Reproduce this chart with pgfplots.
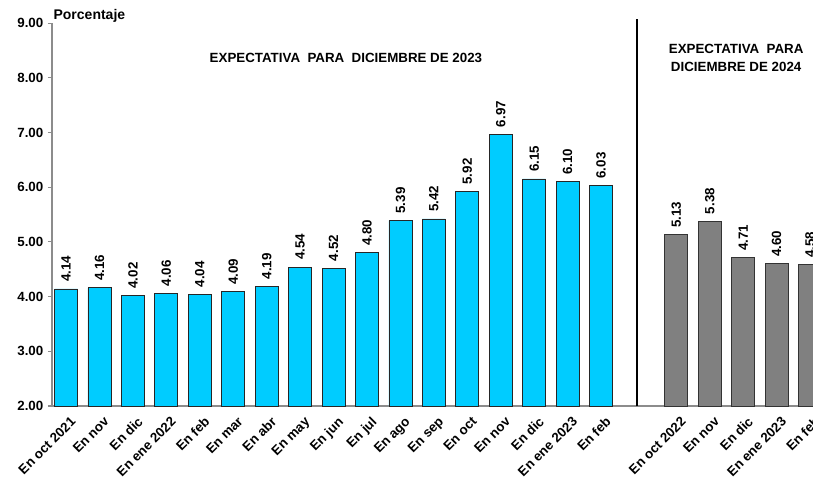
\documentclass[border=0pt]{standalone}
\usepackage{fontspec}
\setmainfont{Liberation Sans}
\usepackage{pgfplots}
\pgfplotsset{compat=1.18}
\definecolor{barcyan}{HTML}{00CCFF}
\definecolor{bargray}{HTML}{808080}
\definecolor{axgray}{HTML}{8C8C8C}
\begin{document}
\begin{tikzpicture}
\useasboundingbox (-39pt,-54.75pt) rectangle (570.75pt,304.5pt);
\clip (-39pt,-54.75pt) rectangle (570.75pt,304.5pt);
\begin{axis}[
  x=25.08pt, y=41.03pt,
  xmin=-0.42, xmax=22.8,
  ymin=2, ymax=9,
  clip=false,
  axis x line*=bottom,
  axis y line*=left,
  axis line style={axgray, line width=0.8pt},
  ytick={2,3,...,9},
  tick align=outside,
  major tick length=3pt,
  y tick style={axgray, line width=0.8pt},
  x tick style={draw=none},
  /pgf/number format/assume math mode=true,
  yticklabel style={font=\bfseries\fontsize{10}{12}\selectfont,
    /pgf/number format/.cd, fixed, fixed zerofill, precision=2},
  xtick={0,1,2,3,4,5,6,7,8,9,10,11,12,13,14,15,16,18.25,19.25,20.25,21.25,22.25},
  xticklabels={En oct 2021,En nov,En dic,En ene 2022,En feb,En mar,En abr,En may,En jun,En jul,En ago,En sep,En oct,En nov,En dic,En ene 2023,En feb,En oct 2022,En nov,En dic,En ene 2023,En feb},
  xticklabel style={rotate=45, anchor=north east, inner sep=1pt, yshift=-4pt, xshift=0pt,
    font=\bfseries\fontsize{10}{12}\selectfont},
  nodes near coords,
  nodes near coords style={rotate=90, anchor=west, inner sep=5pt,
    font=\bfseries\fontsize{10}{12}\selectfont,
    /pgf/number format/.cd, fixed, fixed zerofill, precision=2},
]
\addplot[ybar, bar width=17.25pt, bar shift=0pt, fill=barcyan, draw=black!85, line width=0.6pt]
coordinates {(0,4.14) (1,4.16) (2,4.02) (3,4.06) (4,4.04) (5,4.09) (6,4.19) (7,4.54) (8,4.52) (9,4.80) (10,5.39) (11,5.42) (12,5.92) (13,6.97) (14,6.15) (15,6.10) (16,6.03)};
\addplot[ybar, bar width=17.25pt, bar shift=0pt, fill=bargray, draw=black!80, line width=0.6pt]
coordinates {(18.25,5.13) (19.25,5.38) (20.25,4.71) (21.25,4.60) (22.25,4.58)};
\draw[black, line width=1.2pt] (axis cs:17.07,2) -- (axis cs:17.07,9.08);
\node[anchor=base west, inner sep=0pt, font=\bfseries\fontsize{10.5}{12}\selectfont] at ([yshift=3pt, xshift=1pt]rel axis cs:0,1) {Porcentaje};
\node[font=\bfseries\fontsize{10}{12}\selectfont] at (axis cs:8.37,8.36) {EXPECTATIVA\ \ PARA\ \ DICIEMBRE\ DE\ 2023};
\node[align=center, font=\bfseries\fontsize{10}{13.5}\selectfont] at (axis cs:20.04,8.36) {EXPECTATIVA\ \ PARA\\DICIEMBRE\ DE\ 2024};
\end{axis}
\end{tikzpicture}
\end{document}
